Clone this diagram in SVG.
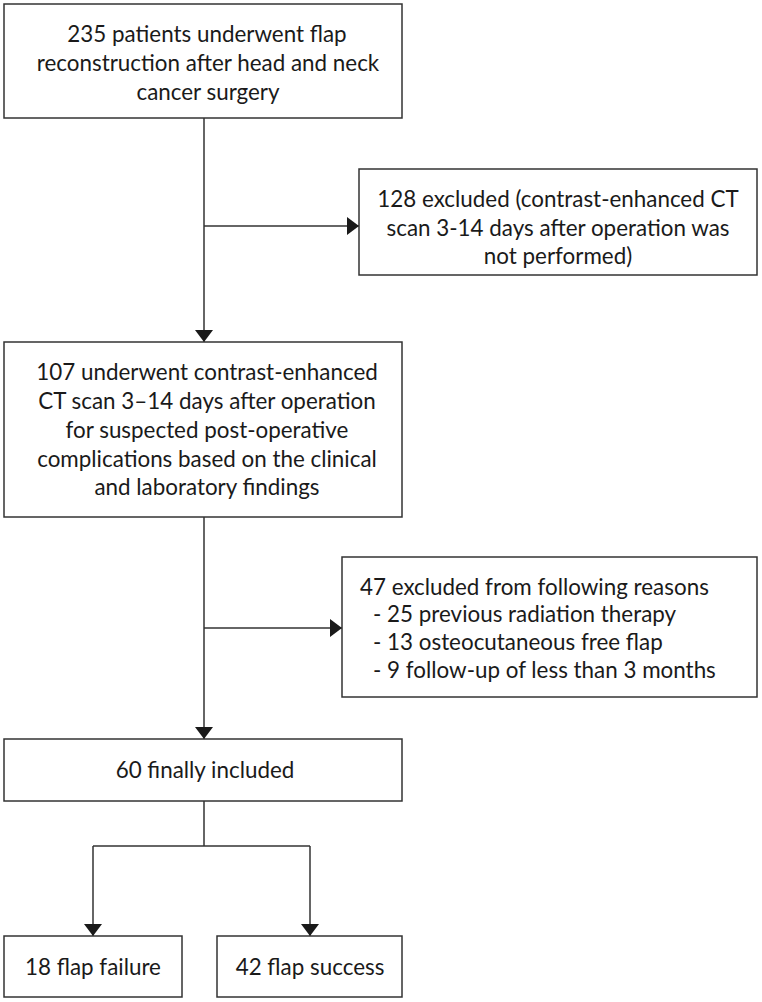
<svg xmlns="http://www.w3.org/2000/svg" width="762" height="1002" viewBox="0 0 762 1002">
<defs>
<marker id="arr" viewBox="0 0 12 18" refX="12" refY="9" markerWidth="12" markerHeight="18" markerUnits="userSpaceOnUse" orient="auto">
<path d="M0,0 L12,9 L0,18 Z" fill="#1a1a1a"/>
</marker>
<style>
.box{fill:#fff;stroke:#333;stroke-width:1.5}
.t{font-family:Lato,"Open Sans",sans-serif;font-size:22.4px;fill:#1a1a1a}
.c{text-anchor:middle}
.ln{fill:none;stroke:#333;stroke-width:1.5}
</style>
</defs>
<rect width="762" height="1002" fill="#fff"/>
<g id="connectors">
<path class="ln" d="M204,118 V342" marker-end="url(#arr)"/>
<path class="ln" d="M204,226 H359" marker-end="url(#arr)"/>
<path class="ln" d="M204,517 V739" marker-end="url(#arr)"/>
<path class="ln" d="M204,628 H342" marker-end="url(#arr)"/>
<path class="ln" d="M204,801 V846"/>
<path class="ln" d="M93,846 H310"/>
<path class="ln" d="M93,846 V936" marker-end="url(#arr)"/>
<path class="ln" d="M310,846 V936" marker-end="url(#arr)"/>
</g>
<g id="n1">
<rect class="box" x="4" y="4" width="398" height="114"/>
<text class="t c" x="207" y="42">235 patients underwent flap</text>
<text class="t c" x="208" y="71">reconstruction after head and neck</text>
<text class="t c" x="208" y="100">cancer surgery</text>
</g>
<g id="n2">
<rect class="box" x="359" y="169" width="398" height="106"/>
<text class="t c" x="558" y="207">128 excluded (contrast-enhanced CT</text>
<text class="t c" x="558" y="236">scan 3-14 days after operation was</text>
<text class="t c" x="558" y="264">not performed)</text>
</g>
<g id="n3">
<rect class="box" x="4" y="342" width="398" height="175"/>
<text class="t c" x="207" y="380">107 underwent contrast-enhanced</text>
<text class="t c" x="207" y="409">CT scan 3–14 days after operation</text>
<text class="t c" x="207" y="438">for suspected post-operative</text>
<text class="t c" x="207" y="467">complications based on the clinical</text>
<text class="t c" x="207" y="495">and laboratory findings</text>
</g>
<g id="n4">
<rect class="box" x="342" y="557" width="415" height="140"/>
<text class="t" x="360" y="595">47 excluded from following reasons</text>
<text class="t" x="373" y="622">- 25 previous radiation therapy</text>
<text class="t" x="373" y="650">- 13 osteocutaneous free flap</text>
<text class="t" x="373" y="678">- 9 follow-up of less than 3 months</text>
</g>
<g id="n5">
<rect class="box" x="4" y="739" width="398" height="62"/>
<text class="t c" x="205" y="778">60 finally included</text>
</g>
<g id="n6">
<rect class="box" x="4" y="936" width="178" height="61"/>
<text class="t c" x="93" y="975">18 flap failure</text>
</g>
<g id="n7">
<rect class="box" x="217" y="936" width="185" height="61"/>
<text class="t c" x="310" y="975">42 flap success</text>
</g>
</svg>
